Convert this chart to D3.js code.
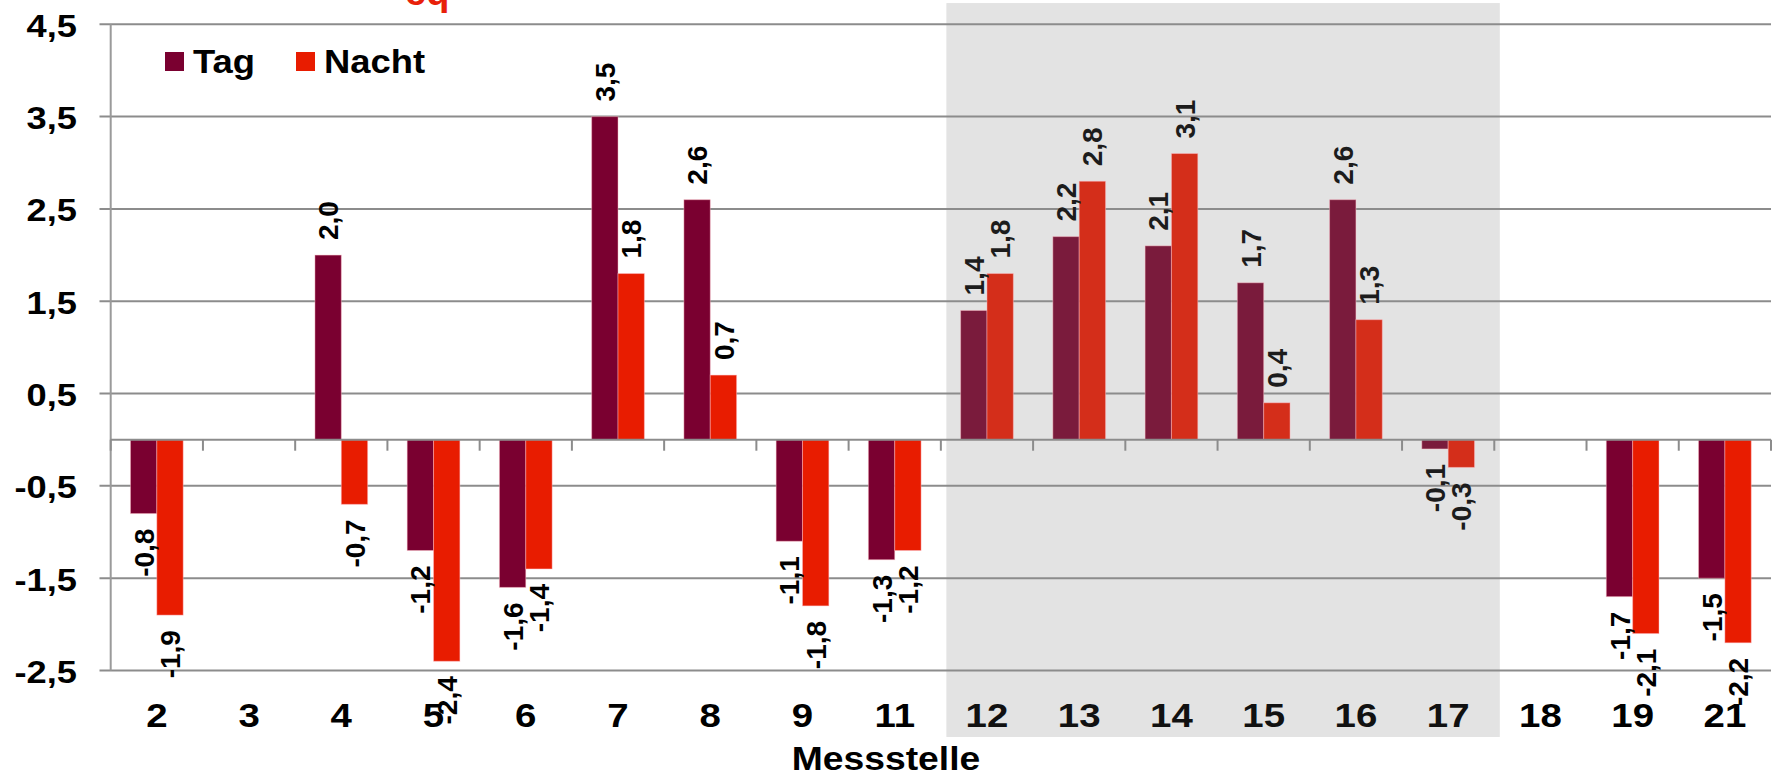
<!DOCTYPE html>
<html>
<head>
<meta charset="utf-8">
<script src="https://cdn.jsdelivr.net/npm/d3@7"></script>
<style>
  html, body { margin: 0; padding: 0; background: #fff; }
  svg { display: block; }
  text { font-family: "Liberation Sans", Arial, sans-serif; font-weight: bold; }
</style>
</head>
<body>
<svg id="chart" width="1775" height="777"></svg>
<script>
// ---- data ----
const categories = ["2","3","4","5","6","7","8","9","11","12","13","14","15","16","17","18","19","21"];
const tagValues   = [-0.8, null, 2.0, -1.2, -1.6, 3.5, 2.6, -1.1, -1.3, 1.4, 2.2, 2.1, 1.7, 2.6, -0.1, null, -1.7, -1.5];
const nachtValues = [-1.9, null, -0.7, -2.4, -1.4, 1.8, 0.7, -1.8, -1.2, 1.8, 2.8, 3.1, 0.4, 1.3, -0.3, null, -2.1, -2.2];
const seriesNames = ["Tag", "Nacht"];
const yTickValues = [-2.5, -1.5, -0.5, 0.5, 1.5, 2.5, 3.5, 4.5];
const shadedCategories = ["12","13","14","15","16","17"];
const xTitle = "Messstelle";
const titleFragment = "eq";

// ---- styles ----
const colors = {
  Tag:   { normal: "#7a0030", shaded: "#7a1b3c" },
  Nacht: { normal: "#e81c00", shaded: "#d42e1a" }
};
const legendColors = { Tag: "#7a0030", Nacht: "#e81c00" };

const svg = d3.select("#chart");
const fmt = v => (v < 0 ? "-" : "") + Math.abs(v).toFixed(1).replace(".", ",");

const x = d3.scaleBand().domain(categories).range([110.7, 1771]).paddingInner(0).paddingOuter(0);
const xInner = d3.scaleBand().domain(seriesNames).range([0, x.bandwidth()]).paddingInner(0).paddingOuter(0.75);
const y = d3.scaleLinear().domain([-2.5, 4.5]).range([670.5, 24.3]);

// shaded background region
const sx0 = x(shadedCategories[0]) + 0.06 * x.step();
const sx1 = x(shadedCategories[shadedCategories.length - 1]) + x.step() * 1.06;
svg.append("rect")
  .attr("x", sx0).attr("y", y(4.73))
  .attr("width", sx1 - sx0).attr("height", y(-3.22) - y(4.73))
  .attr("fill", "#e3e3e3");

// red title fragment (cut off at top, as in the reference)
svg.append("text").attr("fill", "#e8200a").attr("font-size", 38)
  .attr("x", 405).attr("y", 5).text(titleFragment);

// gridlines
svg.append("g").selectAll("line").data(yTickValues).join("line")
  .attr("x1", 99.5).attr("x2", x.range()[1])
  .attr("y1", d => y(d)).attr("y2", d => y(d))
  .attr("stroke", "#8c8c8c").attr("stroke-width", 2);

// y axis line
svg.append("line")
  .attr("x1", x.range()[0]).attr("x2", x.range()[0])
  .attr("y1", y(4.5)).attr("y2", y(-2.5))
  .attr("stroke", "#9a9a9a").attr("stroke-width", 2);

// y tick labels (slightly stretched horizontally)
svg.append("g").selectAll("g").data(yTickValues).join("g")
  .attr("transform", d => `translate(77,${y(d) + 12.5})`)
  .append("text")
  .attr("transform", "scale(1.17,1)")
  .attr("text-anchor", "end")
  .attr("font-size", 31)
  .attr("fill", "#000")
  .text(d => fmt(d));

// bars
const rows = categories.map((c, i) => ({ cat: c, Tag: tagValues[i], Nacht: nachtValues[i] }));
const barData = [];
rows.forEach(r => seriesNames.forEach(s => {
  if (r[s] !== null && r[s] !== undefined) barData.push({ cat: r.cat, series: s, value: r[s] });
}));
const isShaded = c => shadedCategories.includes(c);

svg.append("g").selectAll("rect").data(barData).join("rect")
  .attr("x", d => x(d.cat) + xInner(d.series))
  .attr("width", xInner.bandwidth())
  .attr("y", d => Math.min(y(d.value), y(0)))
  .attr("height", d => Math.abs(y(d.value) - y(0)))
  .attr("fill", d => isShaded(d.cat) ? colors[d.series].shaded : colors[d.series].normal)
  .attr("stroke", "rgba(255,190,200,0.45)")
  .attr("stroke-width", 1);

// x axis line (zero) and ticks
svg.append("line")
  .attr("x1", x.range()[0]).attr("x2", x.range()[1])
  .attr("y1", y(0)).attr("y2", y(0))
  .attr("stroke", "#8c8c8c").attr("stroke-width", 2);
const boundaries = categories.map(c => x(c)).concat([x.range()[1]]);
svg.append("g").selectAll("line").data(boundaries).join("line")
  .attr("x1", d => d).attr("x2", d => d)
  .attr("y1", y(0)).attr("y2", y(0) + 11)
  .attr("stroke", "#8c8c8c").attr("stroke-width", 2);

// data labels (rotated)
svg.append("g").selectAll("text").data(barData).join("text")
  .attr("transform", d => {
    const cx = x(d.cat) + xInner(d.series) + xInner.bandwidth() / 2;
    const yy = d.value >= 0 ? y(d.value) - 15 : y(d.value) + 15;
    return `translate(${cx},${yy}) rotate(-90)`;
  })
  .attr("dy", "0.36em")
  .attr("text-anchor", d => d.value >= 0 ? "start" : "end")
  .attr("font-size", 28)
  .attr("fill", d => isShaded(d.cat) ? "#1c1c1c" : "#000")
  .text(d => fmt(d.value));

// x category labels
svg.append("g").selectAll("g").data(categories).join("g")
  .attr("transform", c => `translate(${x(c) + x.bandwidth() / 2},727)`)
  .append("text")
  .attr("transform", "scale(1.13,1)")
  .attr("text-anchor", "middle")
  .attr("font-size", 34)
  .attr("fill", d => isShaded(d) ? "#111" : "#000")
  .text(c => c);

// x axis title
svg.append("g").attr("transform", "translate(886,770)")
  .append("text")
  .attr("transform", "scale(1.13,1)")
  .attr("text-anchor", "middle")
  .attr("font-size", 33)
  .attr("fill", "#000")
  .text(xTitle);

// legend
const legendX = [165, 296];
const lg = svg.append("g").selectAll("g").data(seriesNames).join("g")
  .attr("transform", (d, i) => `translate(${legendX[i]},52)`);
lg.append("rect").attr("width", 19).attr("height", 19).attr("fill", d => legendColors[d]);
lg.append("g").attr("transform", "translate(28,21)")
  .append("text")
  .attr("transform", "scale(1.07,1)")
  .attr("font-size", 34)
  .attr("fill", "#000")
  .text(d => d);
</script>
</body>
</html>
